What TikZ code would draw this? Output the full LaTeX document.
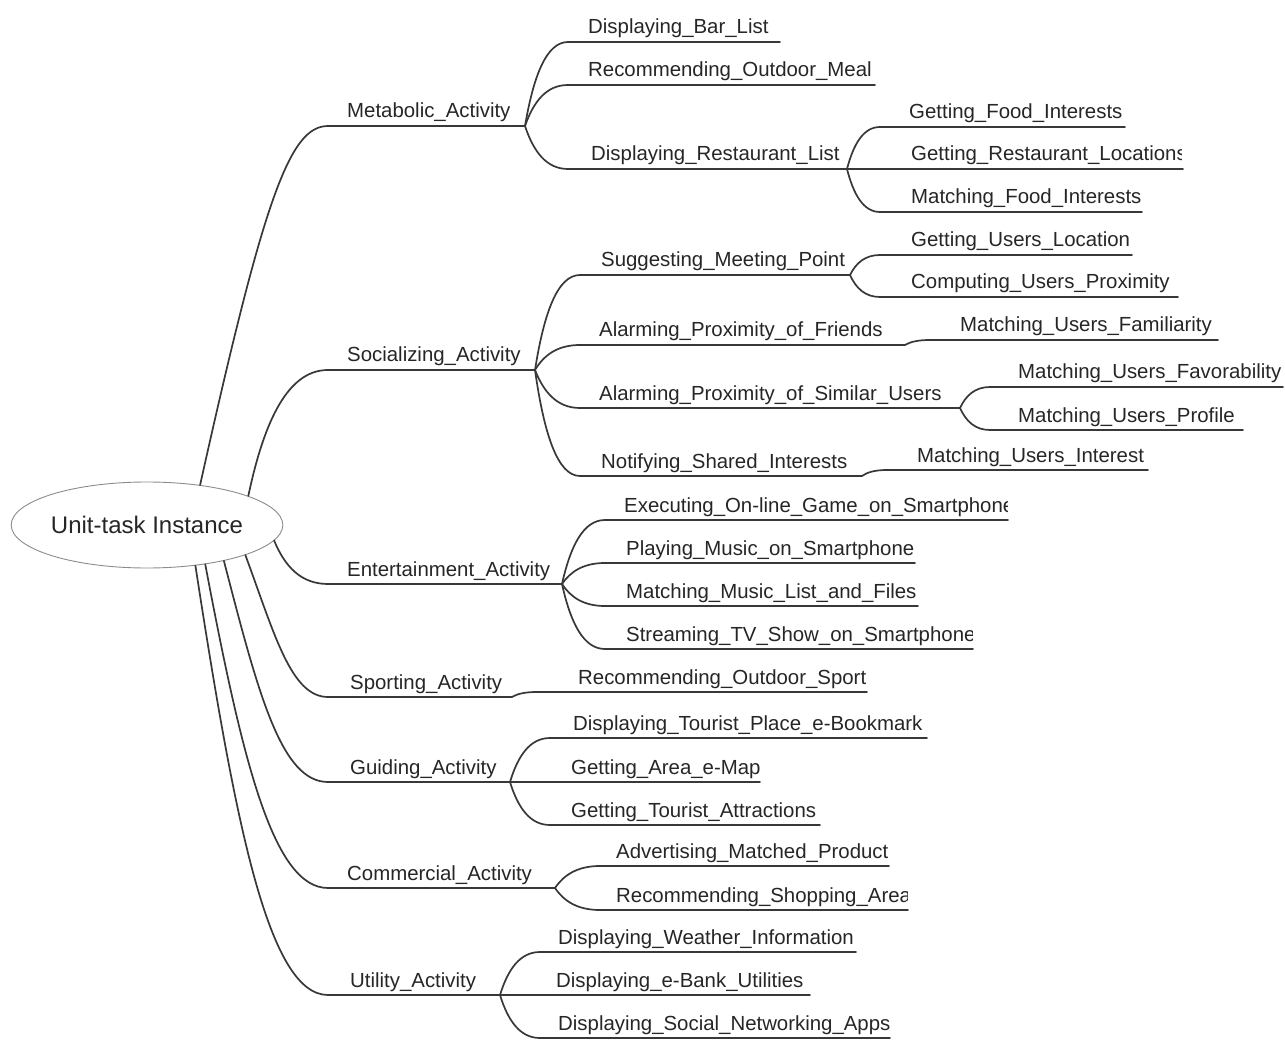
\documentclass[tikz,border=0pt]{standalone}
\usepackage{fontspec}
\setmainfont{Liberation Sans}
\usetikzlibrary{shapes.geometric,calc}

% topic: name, line start x, line y, line end x, text left x, text
\newcommand\mmtopic[6]{%
  \coordinate (#1-s) at (#2,#3);
  \coordinate (#1-e) at (#4,#3);
  \draw[conn] (#1-s) -- (#1-e);
  \node[lbl] (#1) at (#5,#3-8) {#6};
}
% same, with the label cut off at x = #7
\newcommand\mmtopicclip[7]{%
  \coordinate (#1-s) at (#2,#3);
  \coordinate (#1-e) at (#4,#3);
  \draw[conn] (#1-s) -- (#1-e);
  \begin{scope}
    \clip (#5-3,#3-40) rectangle (#7,#3);
    \node[lbl] (#1) at (#5,#3-8) {#6};
  \end{scope}
}
% curved branch from a parent point into a child's underline;
% #3,#4: first control point as fractions of dx,dy; #5: second control arm as fraction of dx
\newcommand\mmlinkk[5]{%
  \draw[conn] let \p1=(#1), \p2=(#2) in
    (#1) .. controls ({\x1+#3*(\x2-\x1)},{\y1+#4*(\y2-\y1)})
           and ({\x2-#5*(\x2-\x1)},\y2) .. (#2);
}
\newcommand\mmlink[2]{\mmlinkk{#1}{#2}{0.2}{0.6}{0.5}}

\begin{document}
\begin{tikzpicture}[x=1pt,y=-1pt,
  conn/.style={draw=black!78, line width=1.7pt, line join=round, line cap=round},
  lbl/.style={anchor=base west, inner sep=0pt, text=black!85,
    font=\fontsize{20.4}{24}\selectfont},
  root/.style={ellipse, draw=black!45, line width=0.9pt, fill=white,
    minimum width=263pt, minimum height=86pt, inner sep=0pt, text=black!85,
    font=\fontsize{24}{28}\selectfont}]

\fill[white] (0,0) rectangle (1285,1040);
\useasboundingbox (0,0) rectangle (1285,1040);

% first-level activities
\mmtopic{met}{328}{126}{525}{347}{Metabolic\_Activity}
\mmtopic{soc}{328}{370}{535}{347}{Socializing\_Activity}
\mmtopic{ent}{328}{584}{562}{347}{Entertainment\_Activity}
\mmtopic{spo}{328}{697}{512}{350}{Sporting\_Activity}
\mmtopic{gui}{328}{782}{510}{350}{Guiding\_Activity}
\mmtopic{com}{328}{888}{555}{347}{Commercial\_Activity}
\mmtopic{uti}{328}{995}{500}{350}{Utility\_Activity}

% metabolic
\mmtopic{dbl}{568}{42}{780}{588}{Displaying\_Bar\_List}
\mmtopic{rom}{568}{85}{875}{588}{Recommending\_Outdoor\_Meal}
\mmtopic{drl}{568}{169}{847}{591}{Displaying\_Restaurant\_List}
\mmtopic{gfi}{880}{127}{1125}{909}{Getting\_Food\_Interests}
\mmtopicclip{grl}{880}{169}{1183}{911}{Getting\_Restaurant\_Locations}{1181}
\mmtopic{mfi}{880}{212}{1142}{911}{Matching\_Food\_Interests}

% socializing
\mmtopicclip{smp}{580}{275}{850}{601}{Suggesting\_Meeting\_Point}{844}
\mmtopic{gul}{880}{255}{1132}{911}{Getting\_Users\_Location}
\mmtopic{cup}{880}{297}{1178}{911}{Computing\_Users\_Proximity}
\mmtopic{apf}{580}{345}{905}{599}{Alarming\_Proximity\_of\_Friends}
\mmtopic{muf}{930}{340}{1218}{960}{Matching\_Users\_Familiarity}
\mmtopic{aps}{580}{408}{960}{599}{Alarming\_Proximity\_of\_Similar\_Users}
\mmtopic{mfa}{990}{387}{1283}{1018}{Matching\_Users\_Favorability}
\mmtopic{mup}{990}{430}{1243}{1018}{Matching\_Users\_Profile}
\mmtopic{nsi}{580}{476}{862}{601}{Notifying\_Shared\_Interests}
\mmtopic{mui}{887}{470}{1148}{917}{Matching\_Users\_Interest}

% entertainment
\mmtopicclip{eog}{605}{520}{1008}{624}{Executing\_On-line\_Game\_on\_Smartphone}{1007}
\mmtopic{pms}{605}{563}{915}{626}{Playing\_Music\_on\_Smartphone}
\mmtopic{mml}{605}{606}{918}{626}{Matching\_Music\_List\_and\_Files}
\mmtopicclip{sts}{605}{649}{973}{626}{Streaming\_TV\_Show\_on\_Smartphone}{972}

% sporting
\mmtopic{ros}{537}{692}{867}{578}{Recommending\_Outdoor\_Sport}

% guiding
\mmtopic{dtp}{550}{738}{927}{573}{Displaying\_Tourist\_Place\_e-Bookmark}
\mmtopic{gam}{550}{782}{760}{571}{Getting\_Area\_e-Map}
\mmtopic{gta}{550}{825}{820}{571}{Getting\_Tourist\_Attractions}

% commercial
\mmtopic{amp}{600}{866}{889}{616}{Advertising\_Matched\_Product}
\mmtopicclip{rsa}{600}{910}{908}{616}{Recommending\_Shopping\_Area}{907}

% utility
\mmtopic{dwi}{540}{952}{856}{558}{Displaying\_Weather\_Information}
\mmtopic{deb}{540}{995}{810}{556}{Displaying\_e-Bank\_Utilities}
\mmtopic{dsn}{540}{1038}{890}{558}{Displaying\_Social\_Networking\_Apps}

% central topic
\node[root] (root) at (147,525) {Unit-task Instance};

% branches from the central topic
\mmlinkk{root.37}{met-s}{0.5}{0.8}{0.3}
\mmlink{root.16.5}{soc-s}
\mmlink{root.-7}{ent-s}
\mmlinkk{root.-17}{spo-s}{0.35}{0.55}{0.45}
\mmlinkk{root.-25}{gui-s}{0.33}{0.6}{0.45}
\mmlinkk{root.-34}{com-s}{0.3}{0.6}{0.45}
\mmlinkk{root.-40}{uti-s}{0.3}{0.6}{0.45}

% second-level branches
\mmlink{met-e}{dbl-s}
\mmlink{met-e}{rom-s}
\mmlink{met-e}{drl-s}
\mmlink{drl-e}{gfi-s}
\mmlink{drl-e}{grl-s}
\mmlink{drl-e}{mfi-s}

\mmlink{soc-e}{smp-s}
\mmlink{soc-e}{apf-s}
\mmlink{soc-e}{aps-s}
\mmlink{soc-e}{nsi-s}
\mmlink{smp-e}{gul-s}
\mmlink{smp-e}{cup-s}
\mmlink{apf-e}{muf-s}
\mmlink{aps-e}{mfa-s}
\mmlink{aps-e}{mup-s}
\mmlink{nsi-e}{mui-s}

\mmlink{ent-e}{eog-s}
\mmlink{ent-e}{pms-s}
\mmlink{ent-e}{mml-s}
\mmlink{ent-e}{sts-s}

\mmlink{spo-e}{ros-s}

\mmlink{gui-e}{dtp-s}
\mmlink{gui-e}{gam-s}
\mmlink{gui-e}{gta-s}

\mmlink{com-e}{amp-s}
\mmlink{com-e}{rsa-s}

\mmlink{uti-e}{dwi-s}
\mmlink{uti-e}{deb-s}
\mmlink{uti-e}{dsn-s}

\end{tikzpicture}
\end{document}
